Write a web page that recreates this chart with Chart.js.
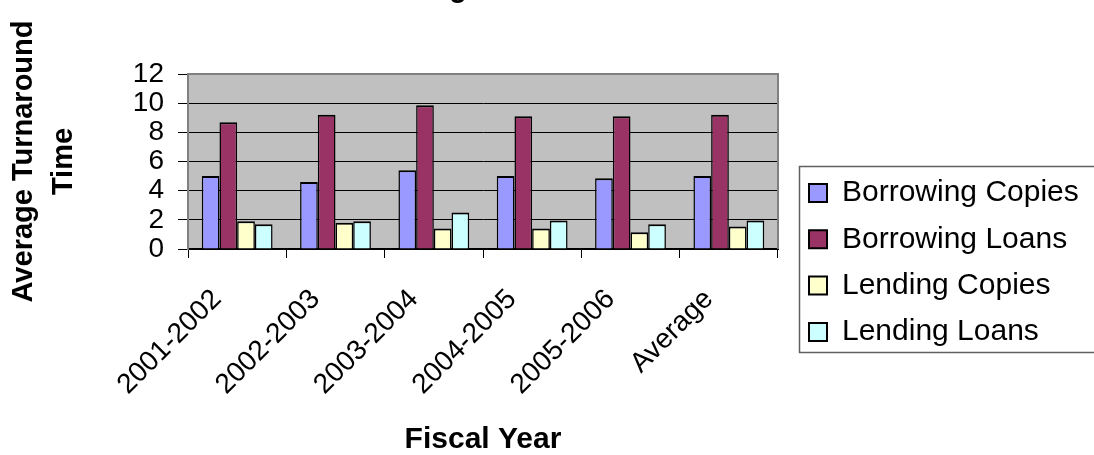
<!DOCTYPE html>
<html>
<head>
<meta charset="utf-8">
<script src="https://cdn.jsdelivr.net/npm/chart.js@4.4.1/dist/chart.umd.min.js"></script>
<style>
  html, body { margin: 0; padding: 0; background: #ffffff; }
  canvas { display: block; }
</style>
</head>
<body>
<canvas id="c" width="1094" height="455"></canvas>
<script>
// ---- data ----
const categories = ['2001-2002', '2002-2003', '2003-2004', '2004-2005', '2005-2006', 'Average'];
const seriesNames = ['Borrowing Copies', 'Borrowing Loans', 'Lending Copies', 'Lending Loans'];
const borrowingCopies = [5.0, 4.6, 5.4, 5.0, 4.85, 5.0];
const borrowingLoans  = [8.7, 9.2, 9.85, 9.1, 9.1, 9.2];
const lendingCopies   = [1.9, 1.8, 1.4, 1.4, 1.15, 1.55];
const lendingLoans    = [1.7, 1.9, 2.5, 1.95, 1.7, 1.95];
const yTicks = [0, 2, 4, 6, 8, 10, 12];
const chartTitle = 'Average Turnaround Time';
const yTitle = ['Average Turnaround', 'Time'];
const xTitle = 'Fiscal Year';

// ---- styles ----
const colors = ['#9999FF', '#993366', '#FFFFCC', '#CCFFFF'];
const FONT = '"Liberation Sans", Arial, Helvetica, sans-serif';
Chart.defaults.font.family = FONT;
Chart.defaults.color = '#000000';

const seriesValues = [borrowingCopies, borrowingLoans, lendingCopies, lendingLoans];
const datasets = seriesNames.map((name, i) => ({
  label: name,
  data: seriesValues[i],
  backgroundColor: colors[i],
  borderColor: '#000000',
  borderWidth: { top: 2, left: 1.5, right: 1.5, bottom: 0 },
  borderSkipped: 'bottom'
}));

const decor = {
  id: 'decor',
  beforeDraw(chart) {
    const { ctx, chartArea: a } = chart;
    ctx.save();
    ctx.fillStyle = '#C0C0C0';
    ctx.fillRect(a.left, a.top, a.right - a.left, a.bottom - a.top);
    ctx.restore();
    const lg = chart.legend;
    if (lg) {
      lg.left = 792.7; lg.top = 161.7; lg.right = 1094; lg.bottom = 455;
      lg.width = lg.right - lg.left; lg.height = lg.bottom - lg.top;
    }
  },
  beforeDatasetsDraw(chart) {
    const { ctx, chartArea: a } = chart;
    ctx.save();
    ctx.strokeStyle = '#808080';
    ctx.lineWidth = 2;
    ctx.beginPath();
    ctx.moveTo(a.left, a.top);
    ctx.lineTo(a.right, a.top);
    ctx.lineTo(a.right, a.bottom);
    ctx.stroke();
    ctx.restore();
  },
  afterDraw(chart) {
    const { ctx } = chart;
    ctx.save();
    // legend frame
    ctx.strokeStyle = '#606060';
    ctx.lineWidth = 1.5;
    ctx.strokeRect(799.5, 166.5, 400, 186);
    // chart title (mostly above the visible area)
    ctx.font = 'bold 29px ' + FONT;
    ctx.fillStyle = '#000000';
    ctx.textBaseline = 'alphabetic';
    ctx.textAlign = 'left';
    const pre = ctx.measureText(chartTitle.slice(0, 5)).width;
    const gw = ctx.measureText('g').width;
    ctx.fillText(chartTitle, 458 - pre - gw / 2, -3);
    ctx.restore();
  }
};

new Chart(document.getElementById('c'), {
  type: 'bar',
  data: { labels: categories, datasets },
  options: {
    responsive: false,
    animation: false,
    devicePixelRatio: 1,
    layout: { padding: { top: 74, left: 0, right: 316, bottom: 0 } },
    datasets: { bar: { categoryPercentage: 0.72, barPercentage: 1.0 } },
    plugins: {
      title: { display: false },
      tooltip: { enabled: false },
      legend: {
        display: true,
        position: 'chartArea',
        align: 'start',
        labels: {
          boxWidth: 18,
          boxHeight: 18,
          padding: 16.3,
          color: '#000000',
          font: { size: 30 },
          generateLabels: (chart) =>
            Chart.defaults.plugins.legend.labels.generateLabels(chart).map(l => Object.assign(l, { lineWidth: 2, strokeStyle: '#000000' }))
        }
      }
    },
    scales: {
      x: {
        ticks: {
          color: '#000000',
          font: { size: 28 },
          minRotation: 45,
          maxRotation: 45,
          autoSkip: false,
          padding: 25,
          labelOffset: -20
        },
        grid: {
          display: true,
          drawOnChartArea: false,
          drawTicks: true,
          tickLength: 9,
          tickColor: '#000000',
          offset: true
        },
        border: { display: true, color: '#000000', width: 2 },
        title: {
          display: true,
          text: xTitle,
          color: '#000000',
          font: { size: 30, weight: 'bold', lineHeight: 1 },
          padding: { top: 0, bottom: 0 }
        },
        afterFit: (s) => { s.height = 206; }
      },
      y: {
        min: 0,
        max: 12,
        afterBuildTicks: (s) => { s.ticks = yTicks.map(v => ({ value: v })); },
        ticks: { color: '#000000', font: { size: 28 }, padding: 14, autoSkip: false },
        grid: {
          color: (c) => (c.tick && c.tick.value === 12) ? '#808080' : '#000000',
          lineWidth: 1,
          drawTicks: true,
          tickLength: 10,
          tickColor: '#000000'
        },
        border: { display: true, color: '#808080', width: 2 },
        title: {
          display: true,
          text: yTitle,
          color: '#000000',
          font: { size: 29, weight: 'bold', lineHeight: 40 / 29 },
          padding: { top: 4, bottom: 0 }
        },
        afterFit: (s) => { s.width = 188; }
      }
    }
  },
  plugins: [decor]
});
</script>
</body>
</html>
